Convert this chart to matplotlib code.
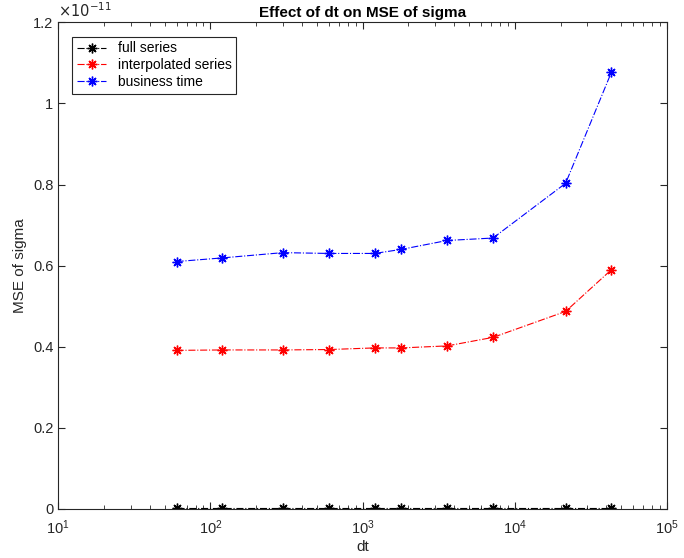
import numpy as np
import matplotlib.pyplot as plt
from matplotlib.ticker import FuncFormatter, LogLocator

plt.rcParams['font.family'] = ['Liberation Sans', 'DejaVu Sans']

# dt in seconds
dt = [60, 120, 300, 600, 1200, 1800, 3600, 7200, 21600, 43200]

# MSE values (x 1e-11)
full_series = [0.001, 0.001, 0.001, 0.001, 0.001, 0.001, 0.001, 0.001, 0.001, 0.001]
interp_series = [0.391, 0.392, 0.392, 0.393, 0.397, 0.397, 0.402, 0.423, 0.487, 0.590]
business_time = [0.610, 0.619, 0.632, 0.630, 0.630, 0.640, 0.662, 0.668, 0.803, 1.077]

scale = 1e-11
full_series = np.array(full_series) * scale
interp_series = np.array(interp_series) * scale
business_time = np.array(business_time) * scale

fig = plt.figure(figsize=(6.84, 5.58), dpi=100)
ax = fig.add_axes([0.085, 0.088, 0.89, 0.872])

ast = (8, 2, 0)
ax.plot(dt, full_series, '-.', color='k', marker=ast, ms=7, lw=0.8, label='full series')
ax.plot(dt, interp_series, '-.', color='r', marker=ast, ms=7, lw=0.8, label='interpolated series')
ax.plot(dt, business_time, '-.', color='b', marker=ast, ms=7, lw=0.8, label='business time')

ax.set_xscale('log')
ax.set_xlim(10, 1e5)
ax.set_ylim(0, 1.2e-11)
ax.set_yticks(np.arange(0, 1.21, 0.2) * scale)
ax.yaxis.set_major_formatter(FuncFormatter(lambda v, p: '%g' % round(v / scale, 6)))
ax.xaxis.set_major_locator(LogLocator(base=10, numticks=10))
ax.xaxis.set_minor_locator(LogLocator(base=10, subs=np.arange(2, 10), numticks=20))

ax.tick_params(which='both', direction='in', top=True, right=True, labelsize=10.5, colors='#262626')
ax.tick_params(which='major', length=5)
ax.tick_params(which='minor', length=3)
ax.tick_params(axis='x', which='major', pad=7)
for s in ax.spines.values():
    s.set_color('#262626')
    s.set_linewidth(0.8)

ax.set_xlabel('dt', fontsize=11, color='#262626', labelpad=2)
ax.set_ylabel('MSE of sigma', fontsize=11, color='#262626')
ax.set_title('Effect of dt on MSE of sigma', fontsize=11, fontweight='bold', pad=4)
ax.text(0, 1.005, r'$\times10^{-11}$', transform=ax.transAxes, fontsize=10.5,
        color='#262626', va='bottom', ha='left')

leg = ax.legend(loc='upper left', fontsize=10, fancybox=False, framealpha=1,
                edgecolor='#262626', borderpad=0.35, handlelength=2.1,
                bbox_to_anchor=(0.012, 0.985), labelspacing=0.2)
leg.get_frame().set_linewidth(0.8)

fig.savefig('out.png', dpi=100)
